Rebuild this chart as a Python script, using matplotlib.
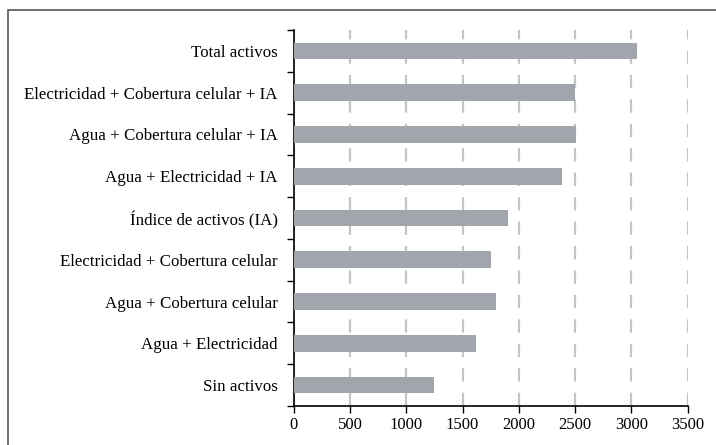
import matplotlib
matplotlib.use("Agg")
import matplotlib.pyplot as plt
from matplotlib.patches import Rectangle
import numpy as np

categories = [
    "Total activos",
    "Electricidad + Cobertura celular + IA",
    "Agua + Cobertura celular + IA",
    "Agua + Electricidad + IA",
    "Índice de activos (IA)",
    "Electricidad + Cobertura celular",
    "Agua + Cobertura celular",
    "Agua + Electricidad",
    "Sin activos",
]
values = [3050, 2500, 2505, 2380, 1905, 1752, 1797, 1622, 1249]
xticks = [0, 500, 1000, 1500, 2000, 2500, 3000, 3500]

plt.rcParams['font.family'] = ['Liberation Serif', 'DejaVu Serif']

W, H = 716, 445
fig = plt.figure(figsize=(W/100, H/100), dpi=100)
ax = fig.add_axes([293.7/W, 1-406/H, (687.7-293.7)/W, (406-30)/H])

n = len(categories)
ypos = np.arange(n)[::-1]
ax.barh(ypos, values, height=0.4, color='#a0a6ac', zorder=3)
ax.set_ylim(-0.5, n-0.5)
ax.set_xlim(0, 3500)
ax.set_xticks(xticks)
ax.set_xticklabels([str(t) for t in xticks], fontsize=12)
ax.set_yticks(ypos)
ax.set_yticklabels(categories, fontsize=12.2)
ax.tick_params(axis='y', which='major', length=0, pad=11.5)
ax.set_yticks(np.arange(n+1)-0.5, minor=True)
ax.tick_params(axis='y', which='minor', length=5, width=1, direction='out')
ax.tick_params(axis='x', length=5, width=1, direction='out', pad=3)
for s in ['top', 'right']:
    ax.spines[s].set_visible(False)
ax.spines['left'].set_linewidth(1.2)
ax.spines['bottom'].set_linewidth(1.2)
ax.xaxis.grid(True, linestyle=(0, (6, 5)), color='#c4c4c4', linewidth=1.6, zorder=0)
ax.set_axisbelow(True)

fig.patches.append(Rectangle((8/W, -0.1), 1.2, 1-10.5/H+0.1, transform=fig.transFigure,
                             fill=False, edgecolor='#555555', linewidth=1.2))

fig.savefig("out.png", dpi=100)
